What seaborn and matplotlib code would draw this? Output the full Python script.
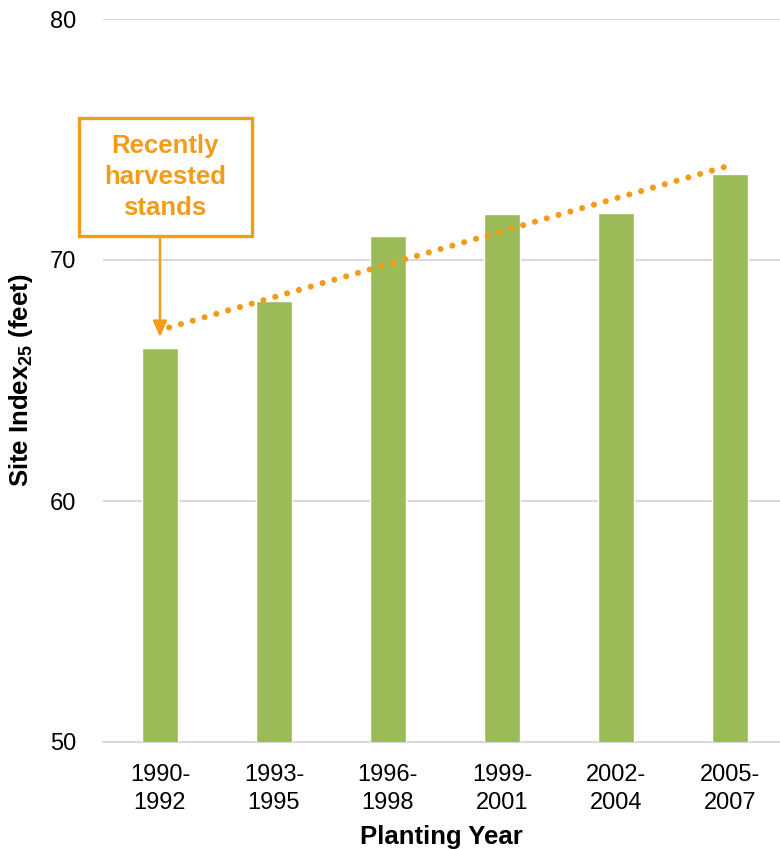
import numpy as np
import pandas as pd
import matplotlib
matplotlib.use("Agg")
import matplotlib.pyplot as plt
from matplotlib.patches import Rectangle
import seaborn as sns

# ---- data ----
periods = ["1990-\n1992", "1993-\n1995", "1996-\n1998", "1999-\n2001", "2002-\n2004", "2005-\n2007"]
site_index = [66.35, 68.3, 71.0, 71.9, 71.95, 73.55]
y_ticks = [50, 60, 70, 80]
annotation_text = "Recently\nharvested\nstands"

GREEN = "#9BBB59"
ORANGE = "#F39C1A"
GRID = "#D9D9D9"

sns.set_theme(style="white")
plt.rcParams["font.family"] = ["Liberation Sans", "DejaVu Sans"]
plt.rcParams["mathtext.fontset"] = "custom"
plt.rcParams["mathtext.rm"] = "Liberation Sans"
plt.rcParams["mathtext.bf"] = "Liberation Sans:bold"
plt.rcParams["text.color"] = "black"

fig = plt.figure(figsize=(7.8, 8.49), dpi=100)
W, H = 780, 849
ax_h = 742 - 19
ax_w = 780 - 103
ax = fig.add_axes([103 / W, (H - 742) / H, ax_w / W, ax_h / H])

df = pd.DataFrame({"period": periods, "value": site_index})
sns.barplot(data=df, x="period", y="value", color=GREEN, width=0.31,
            saturation=1, ax=ax, zorder=3)

ax.set_ylim(50, 80)
ax.set_xlim(-0.5, 5.44)
ax.set_yticks(y_ticks)
ax.yaxis.grid(True, color=GRID, linewidth=1.5, zorder=0)
ax.set_axisbelow(True)
for s in ["top", "right", "left"]:
    ax.spines[s].set_visible(False)
ax.spines["bottom"].set_color(GRID)
ax.spines["bottom"].set_linewidth(1.5)
ax.tick_params(axis="both", length=0, labelsize=17, colors="black")
ax.tick_params(axis="y", pad=19)
ax.tick_params(axis="x", pad=16)
for lab in ax.get_xticklabels():
    lab.set_linespacing(1.35)

ax.set_xlabel("Planting Year", fontsize=18.5, fontweight="bold", color="black", va="center")
ax.xaxis.set_label_coords(0.5, (742 - 837) / ax_h)
ax.set_ylabel("Site Index$_{\\mathbf{25}}$ (feet)", fontsize=18.5, fontweight="bold",
              color="black", va="center")
ax.yaxis.set_label_coords((21 - 103) / ax_w, 0.5)

# linear trend line (from data)
xs = np.arange(len(site_index))
slope, intercept = np.polyfit(xs, site_index, 1)
x0, x1 = xs[0] + 0.08, xs[-1] - 0.03
ax.plot([x0, x1], [intercept + slope * x0, intercept + slope * x1],
        color=ORANGE, linewidth=4.4, linestyle=(0, (0.01, 2.0)),
        dash_capstyle="round", solid_capstyle="round", zorder=4)

# annotation box
box = Rectangle((-0.712, 71.0), 1.52, 4.89, fill=False, edgecolor=ORANGE,
                linewidth=2.4, clip_on=False, zorder=5)
ax.add_patch(box)
ax.text(0.045, 73.45, annotation_text, ha="center", va="center", color=ORANGE,
        fontsize=18.5, fontweight="bold", linespacing=1.38, zorder=6)
ax.annotate("", xy=(0, 66.8), xytext=(0, 71.0),
            arrowprops=dict(arrowstyle="-|>,head_length=0.8,head_width=0.35",
                            color=ORANGE, linewidth=1.8, shrinkA=0, shrinkB=0),
            zorder=6)

fig.savefig("out.png", dpi=100)
